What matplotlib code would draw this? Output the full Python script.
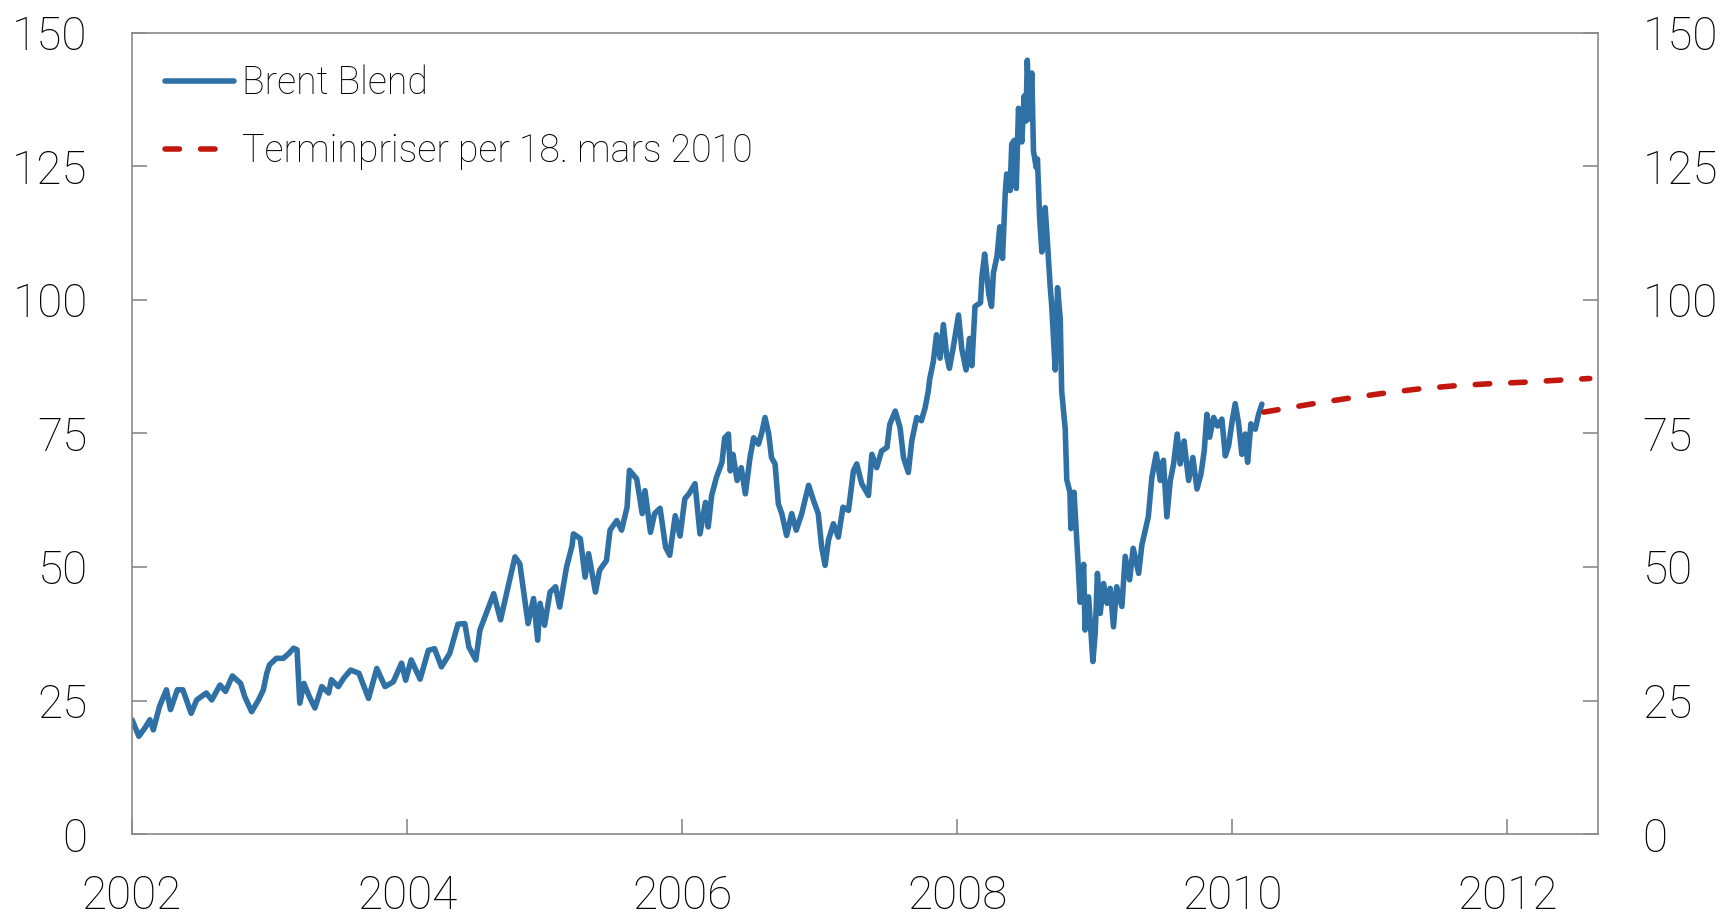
import matplotlib.pyplot as plt

# Brent Blend, USD per fat (decimal years)
brent_years = [
    2002.0, 2002.05, 2002.1, 2002.13, 2002.155, 2002.2, 2002.25, 2002.28, 2002.33, 2002.37,
    2002.43, 2002.47, 2002.54, 2002.58, 2002.64, 2002.68, 2002.73, 2002.79, 2002.82, 2002.87,
    2002.92, 2002.955, 2002.98, 2003.0, 2003.05, 2003.1, 2003.14, 2003.175, 2003.2, 2003.22,
    2003.25, 2003.29, 2003.33, 2003.38, 2003.43, 2003.45, 2003.5, 2003.54, 2003.59, 2003.65,
    2003.72, 2003.78, 2003.84, 2003.9, 2003.96, 2003.99, 2004.03, 2004.095, 2004.155, 2004.2,
    2004.25, 2004.31, 2004.35, 2004.37, 2004.42, 2004.45, 2004.5, 2004.53, 2004.58, 2004.63,
    2004.68, 2004.74, 2004.785, 2004.82, 2004.88, 2004.92, 2004.95, 2004.967, 2005.0, 2005.04,
    2005.08, 2005.11, 2005.16, 2005.2, 2005.21, 2005.26, 2005.295, 2005.32, 2005.37, 2005.4,
    2005.45, 2005.476, 2005.525, 2005.56, 2005.6, 2005.617, 2005.67, 2005.71, 2005.73, 2005.77,
    2005.8, 2005.84, 2005.88, 2005.91, 2005.95, 2005.985, 2006.02, 2006.05, 2006.094, 2006.13,
    2006.17, 2006.19, 2006.215, 2006.25, 2006.29, 2006.31, 2006.337, 2006.35, 2006.37, 2006.4,
    2006.43, 2006.46, 2006.494, 2006.52, 2006.555, 2006.58, 2006.603, 2006.63, 2006.65, 2006.676,
    2006.7, 2006.725, 2006.76, 2006.797, 2006.83, 2006.87, 2006.92, 2006.955, 2006.99, 2007.015,
    2007.04, 2007.064, 2007.1, 2007.136, 2007.17, 2007.21, 2007.246, 2007.27, 2007.306, 2007.355,
    2007.38, 2007.415, 2007.45, 2007.49, 2007.51, 2007.55, 2007.585, 2007.61, 2007.645, 2007.67,
    2007.706, 2007.74, 2007.767, 2007.79, 2007.8, 2007.827, 2007.85, 2007.876, 2007.9, 2007.925,
    2007.944, 2007.973, 2008.01, 2008.034, 2008.065, 2008.09, 2008.107, 2008.13, 2008.17, 2008.18,
    2008.2, 2008.23, 2008.25, 2008.264, 2008.29, 2008.31, 2008.33, 2008.35, 2008.36, 2008.385,
    2008.397, 2008.415, 2008.43, 2008.446, 2008.47, 2008.487, 2008.5, 2008.51, 2008.526, 2008.543,
    2008.555, 2008.575, 2008.584, 2008.6, 2008.616, 2008.64, 2008.657, 2008.676, 2008.688, 2008.713,
    2008.73, 2008.75, 2008.76, 2008.786, 2008.797, 2008.82, 2008.827, 2008.85, 2008.866, 2008.88,
    2008.894, 2008.92, 2008.93, 2008.956, 2008.987, 2009.004, 2009.02, 2009.04, 2009.065, 2009.09,
    2009.113, 2009.137, 2009.16, 2009.198, 2009.222, 2009.254, 2009.28, 2009.32, 2009.343, 2009.368,
    2009.39, 2009.416, 2009.448, 2009.477, 2009.5, 2009.525, 2009.55, 2009.574, 2009.6, 2009.622,
    2009.65, 2009.683, 2009.714, 2009.744, 2009.773, 2009.797, 2009.816, 2009.836, 2009.865, 2009.894,
    2009.925, 2009.95, 2009.974, 2010.0, 2010.022, 2010.047, 2010.07, 2010.095, 2010.112, 2010.136,
    2010.168, 2010.192, 2010.216,
]
brent_prices = [
    21.4, 18.3, 20.1, 21.4, 19.5, 23.9, 27.0, 23.3, 27.0, 27.0,
    22.6, 25.1, 26.4, 25.1, 27.9, 26.7, 29.6, 28.2, 25.7, 22.9,
    25.1, 27.0, 30.1, 31.7, 32.9, 32.9, 33.8, 34.8, 34.5, 24.5,
    28.2, 25.7, 23.6, 27.6, 26.4, 28.9, 27.6, 29.2, 30.7, 30.1,
    25.4, 31.0, 27.6, 28.5, 32.0, 28.8, 32.6, 29.0, 34.4, 34.7,
    31.3, 33.8, 37.5, 39.3, 39.4, 35.0, 32.6, 38.2, 41.6, 45.0,
    40.1, 46.9, 51.9, 50.6, 39.4, 44.1, 36.3, 43.2, 39.1, 45.3,
    46.3, 42.5, 50.0, 54.0, 56.2, 55.3, 48.1, 52.5, 45.3, 49.4,
    51.2, 56.9, 58.7, 56.9, 61.2, 68.1, 66.5, 60.0, 64.3, 56.5,
    60.0, 61.0, 53.7, 52.2, 59.6, 55.8, 62.8, 63.7, 65.6, 56.2,
    62.1, 57.5, 63.4, 66.8, 69.6, 74.2, 74.9, 68.0, 71.1, 66.2,
    68.6, 63.7, 70.5, 74.2, 73.0, 75.2, 78.0, 74.9, 70.5, 69.3,
    61.8, 60.0, 55.9, 60.0, 56.9, 60.0, 65.3, 62.5, 60.0, 53.7,
    50.3, 55.0, 58.1, 55.6, 61.2, 60.6, 68.0, 69.3, 65.6, 63.4,
    71.1, 68.6, 71.7, 72.4, 76.7, 79.2, 76.1, 70.5, 67.7, 73.6,
    78.0, 77.4, 79.8, 82.9, 85.1, 88.5, 93.5, 89.1, 95.4, 89.4,
    87.2, 91.3, 97.2, 90.8, 86.9, 92.8, 87.7, 98.8, 99.5, 104.3,
    108.6, 101.1, 98.8, 105.1, 108.2, 113.7, 107.8, 120.1, 123.6, 120.5,
    129.2, 129.9, 120.9, 135.9, 129.6, 138.2, 133.5, 144.9, 133.9, 142.5,
    127.9, 124.8, 126.4, 115.3, 109.0, 117.3, 110.6, 102.7, 98.8, 86.9,
    102.3, 96.4, 83.0, 75.8, 66.4, 64.0, 57.2, 64.0, 56.8, 50.5,
    43.4, 50.5, 38.2, 44.4, 32.3, 37.6, 48.8, 41.3, 46.9, 43.2,
    46.0, 38.8, 46.3, 42.6, 52.0, 47.6, 53.5, 48.8, 54.1, 56.9,
    59.4, 66.8, 71.2, 66.2, 70.0, 59.4, 66.2, 69.3, 74.9, 69.3,
    73.6, 66.2, 70.5, 64.6, 67.4, 71.8, 78.6, 74.3, 78.0, 76.4,
    77.7, 70.8, 72.7, 77.4, 80.6, 76.8, 71.1, 74.9, 69.6, 76.8,
    75.8, 78.6, 80.5,
]

# Forward prices per 18 March 2010
fwd_years = [2010.23, 2010.57, 2010.82, 2011.09, 2011.34, 2011.6, 2011.86, 2012.12, 2012.385, 2012.6]
fwd_prices = [79.0, 80.5, 81.5, 82.5, 83.3, 83.9, 84.3, 84.6, 85.0, 85.3]

x_ticks = [2002, 2004, 2006, 2008, 2010, 2012]
y_ticks = [0, 25, 50, 75, 100, 125, 150]

blue = '#2f70a5'
red = '#c2170e'
gray = '#8a8a8a'

plt.rcParams['font.family'] = ['Roboto', 'DejaVu Sans']
plt.rcParams['font.weight'] = 'light'

fig = plt.figure(figsize=(17.25, 9.15), dpi=100)
ax = fig.add_axes([132 / 1725, 1 - 834 / 915, (1598 - 132) / 1725, (834 - 33) / 915])

ax.plot(brent_years, brent_prices, color=blue, lw=4,
        solid_joinstyle='round', solid_capstyle='round', label='Brent Blend')
ax.plot(fwd_years, fwd_prices, color=red, lw=4, dashes=(2.6, 3.8),
        dash_capstyle='round', label='Terminpriser per 18. mars 2010')

ax.set_xlim(2002, 2012.66)
ax.set_ylim(0, 150)
ax.set_xticks(x_ticks)
ax.set_xticklabels([str(t) for t in x_ticks])
ax.set_yticks(y_ticks)

ax.tick_params(axis='y', direction='in', length=11, width=1.2, color=gray,
               labelsize=33, pad=32, left=True, right=True,
               labelleft=True, labelright=True)
ax.tick_params(axis='x', direction='in', length=11, width=1.2, color=gray,
               labelsize=33, pad=29, top=False)
for s in ax.spines.values():
    s.set_color(gray)
    s.set_linewidth(1.2)

ax.legend(loc='upper left', bbox_to_anchor=(0.0225, 0.961), frameon=False,
          fontsize=27, handlelength=1.84, handletextpad=0.22, labelspacing=0.83,
          borderpad=0, borderaxespad=0)

fig.savefig('out.png', dpi=100, facecolor='white')
